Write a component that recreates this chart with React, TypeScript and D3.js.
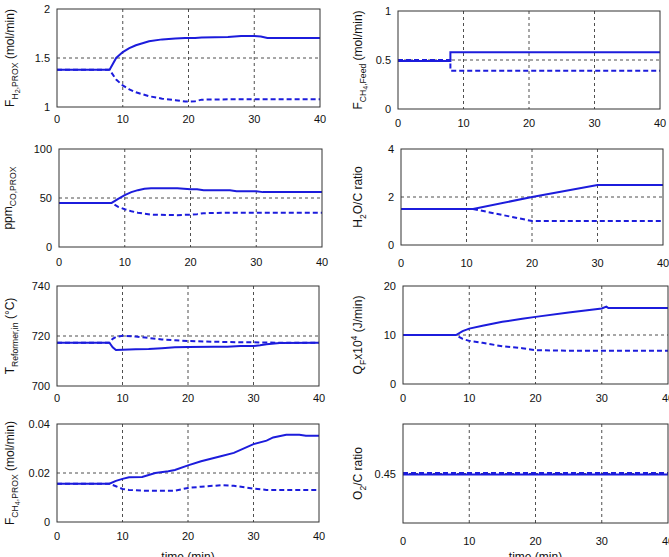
import React from 'react';
import * as d3 from 'd3';

const W = 669;
const H = 557;
const BLUE = '#1c1cdc';
const FONT = '"Liberation Sans", Arial, Helvetica, sans-serif';

// shared time axis (min)
const timeTicks = [0, 10, 20, 30, 40];
const timeGrid = [10, 20, 30];

// H2 flow out of PROX (mol/min)
const h2Time = [0, 8, 9, 10, 11, 12, 14, 16, 18, 19.5, 21, 22, 26, 28, 30, 31, 32, 40];
const h2Up = [1.38, 1.38, 1.5, 1.56, 1.6, 1.63, 1.67, 1.69, 1.7, 1.705, 1.705, 1.71, 1.715, 1.725, 1.725, 1.72, 1.705, 1.705];
const h2Down = [1.38, 1.38, 1.28, 1.22, 1.18, 1.15, 1.11, 1.085, 1.07, 1.055, 1.058, 1.075, 1.078, 1.078, 1.078, 1.078, 1.078, 1.078];

// CH4 feed (mol/min)
const feedTime = [0, 8, 8, 40];
const feedUp = [0.49, 0.49, 0.58, 0.58];
const feedDown = [0.5, 0.5, 0.39, 0.39];

// CO at PROX outlet (ppm)
const coTime = [0, 8, 9, 10, 11, 12, 13, 14, 18, 20, 21, 22, 26, 27, 30, 31, 40];
const coUp = [45, 45, 49, 53, 56, 58, 59.5, 60, 60, 59, 59, 58, 58, 57, 57, 56, 56];
const coDown = [45, 45, 41, 38.5, 36.5, 35, 34, 33, 32.5, 33, 33.5, 34.5, 35, 35, 35, 35, 35];

// steam-to-carbon ratio
const scTime = [0, 11, 20, 30, 40];
const scUp = [1.5, 1.5, 2.0, 2.5, 2.5];
const scDown = [1.5, 1.5, 1.0, 1.0, 1.0];

// reformer inlet temperature (°C)
const tTime = [0, 8, 8.5, 9, 10, 12, 14, 16, 18, 20, 24, 26, 28, 30, 31, 32, 34, 40];
const tUp = [717.3, 717.3, 715.5, 714.4, 714.5, 714.7, 714.8, 715.1, 715.5, 715.6, 715.7, 715.7, 716, 716, 716.3, 716.7, 717.2, 717.3];
const tDown = [717.3, 717.3, 718.9, 719.6, 720.1, 719.8, 719.2, 718.6, 718.3, 718, 717.7, 717.6, 717.5, 717.5, 717.4, 717.4, 717.3, 717.3];

// furnace heat duty (x10^4 J/min)
const qTime = [0, 8, 9, 10, 12, 15, 18, 20, 25, 30, 30.7, 31, 40];
const qUp = [10, 10, 10.8, 11.3, 11.9, 12.7, 13.3, 13.7, 14.6, 15.4, 15.8, 15.5, 15.5];
const qDown = [10, 10, 9.2, 8.8, 8.4, 7.7, 7.3, 6.9, 6.8, 6.8, 6.8, 6.8, 6.8];

// CH4 slip at PROX outlet (mol/min)
const slipTime = [0, 8, 9, 10, 11, 13, 15, 17, 18, 20, 22, 25, 27, 30, 32, 33, 35, 37, 38, 40];
const slipUp = [0.0156, 0.0156, 0.0168, 0.0176, 0.0183, 0.0184, 0.02, 0.0207, 0.0212, 0.0231, 0.0248, 0.0268, 0.0282, 0.0318, 0.0332, 0.0345, 0.0356, 0.0356, 0.0352, 0.0352];
const slipDown = [0.0156, 0.0156, 0.0146, 0.0135, 0.0131, 0.0128, 0.0128, 0.0128, 0.0128, 0.0139, 0.0144, 0.015, 0.0148, 0.0136, 0.0131, 0.0131, 0.0131, 0.0131, 0.0131, 0.0131];

// oxygen-to-carbon ratio
const ocTime = [0, 40];
const ocUp = [0.449, 0.449];
const ocDown = [0.4505, 0.4505];

type Seg = [string, number]; // text, level: 0 normal, 1 sub, 2 sub-sub, -1 sup

interface PanelDef {
  box: { x0: number; x1: number; y0: number; y1: number };
  tickGap: number;
  labelX: number;
  domain: [number, number];
  yTicks: number[];
  yTickText: string[];
  yGrid: number[];
  time: number[];
  up: number[];
  down: number[];
  label: Seg[];
  xTitle?: boolean;
}

const panels: PanelDef[] = [
  {
    box: { x0: 57, x1: 320, y0: 9, y1: 107 }, tickGap: 16, labelX: 14,
    domain: [1, 2], yTicks: [1, 1.5, 2], yTickText: ['1', '1.5', '2'], yGrid: [1.5],
    time: h2Time, up: h2Up, down: h2Down,
    label: [['F', 0], ['H', 1], ['2', 2], [',PROX', 1], [' (mol/min)', 0]],
  },
  {
    box: { x0: 398, x1: 660, y0: 11, y1: 109 }, tickGap: 18, labelX: 362,
    domain: [0, 1], yTicks: [0, 0.5, 1], yTickText: ['0', '0.5', '1'], yGrid: [0.5],
    time: feedTime, up: feedUp, down: feedDown,
    label: [['F', 0], ['CH', 1], ['4', 2], [',Feed', 1], [' (mol/min)', 0]],
  },
  {
    box: { x0: 59, x1: 322, y0: 149, y1: 247 }, tickGap: 19, labelX: 12,
    domain: [0, 100], yTicks: [0, 50, 100], yTickText: ['0', '50', '100'], yGrid: [50],
    time: coTime, up: coUp, down: coDown,
    label: [['ppm', 0], ['CO,PROX', 1]],
  },
  {
    box: { x0: 401, x1: 663, y0: 149, y1: 245 }, tickGap: 22, labelX: 362,
    domain: [0, 4], yTicks: [0, 2, 4], yTickText: ['0', '2', '4'], yGrid: [2],
    time: scTime, up: scUp, down: scDown,
    label: [['H', 0], ['2', 1], ['O/C ratio', 0]],
  },
  {
    box: { x0: 57, x1: 319, y0: 286, y1: 386 }, tickGap: 16, labelX: 14,
    domain: [700, 740], yTicks: [700, 720, 740], yTickText: ['700', '720', '740'], yGrid: [720],
    time: tTime, up: tUp, down: tDown,
    label: [['T', 0], ['Reformer,in', 1], [' (°C)', 0]],
  },
  {
    box: { x0: 403, x1: 668, y0: 286, y1: 384 }, tickGap: 18, labelX: 362,
    domain: [0, 20], yTicks: [0, 10, 20], yTickText: ['0', '10', '20'], yGrid: [10],
    time: qTime, up: qUp, down: qDown,
    label: [['Q', 0], ['F', 1], ['x10', 0], ['4', -1], [' (J/min)', 0]],
  },
  {
    box: { x0: 57, x1: 319, y0: 424, y1: 522 }, tickGap: 18, labelX: 14,
    domain: [0, 0.04], yTicks: [0, 0.02, 0.04], yTickText: ['0', '0.02', '0.04'], yGrid: [0.02],
    time: slipTime, up: slipUp, down: slipDown,
    label: [['F', 0], ['CH', 1], ['4', 2], [',PROX', 1], [' (mol/min)', 0]],
    xTitle: true,
  },
  {
    box: { x0: 403, x1: 668, y0: 424, y1: 523 }, tickGap: 22, labelX: 362,
    domain: [0.4, 0.5], yTicks: [0.45], yTickText: ['0.45'], yGrid: [0.45],
    time: ocTime, up: ocUp, down: ocDown,
    label: [['O', 0], ['2', 1], ['/C ratio', 0]],
    xTitle: true,
  },
];

function RichText({ segs, size }: { segs: Seg[]; size: number }) {
  let prev = 0;
  return (
    <>
      {segs.map(([t, lvl], i) => {
        const off = lvl === 1 ? 3.5 : lvl === 2 ? 6 : lvl === -1 ? -5 : 0;
        const fs = lvl === 0 ? size : lvl === 2 ? size * 0.6 : size * 0.72;
        const dy = off - prev;
        prev = off;
        return (
          <tspan key={i} dy={dy} fontSize={fs}>
            {t}
          </tspan>
        );
      })}
    </>
  );
}

function Panel({ p, idx }: { p: PanelDef; idx: number }) {
  const { x0, x1, y0, y1 } = p.box;
  const x = d3.scaleLinear().domain([0, 40]).range([x0, x1]);
  const y = d3.scaleLinear().domain(p.domain).range([y1, y0]);
  const line = d3
    .line<number>()
    .x((_, i) => x(p.time[i]))
    .y((v) => y(v));
  const clipId = `clip-${idx}`;
  const cy = (y0 + y1) / 2;
  return (
    <g>
      <clipPath id={clipId}>
        <rect x={x0} y={y0} width={x1 - x0} height={y1 - y0} />
      </clipPath>
      <rect x={x0} y={y0} width={x1 - x0} height={y1 - y0} fill="#fff" />
      {timeGrid.map((t) => (
        <line key={`gx${t}`} x1={x(t)} x2={x(t)} y1={y0} y2={y1} stroke="#222" strokeWidth={0.8} strokeDasharray="3,3" />
      ))}
      {p.yGrid.map((v) => (
        <line key={`gy${v}`} x1={x0} x2={x1} y1={y(v)} y2={y(v)} stroke="#222" strokeWidth={0.8} strokeDasharray="3,3" />
      ))}
      <g clipPath={`url(#${clipId})`}>
        <path d={line(p.down) ?? ''} fill="none" stroke={BLUE} strokeWidth={2} strokeDasharray="5,3" />
        <path d={line(p.up) ?? ''} fill="none" stroke={BLUE} strokeWidth={2} />
      </g>
      <rect x={x0} y={y0} width={x1 - x0} height={y1 - y0} fill="none" stroke="#333" strokeWidth={1} />
      {timeTicks.map((t) => (
        <text key={`tx${t}`} x={x(t)} y={y1 + p.tickGap} textAnchor="middle" fontSize={11} fill="#111">
          {t}
        </text>
      ))}
      {p.yTicks.map((v, i) => (
        <text key={`ty${v}`} x={x0 - 7} y={y(v) + 4} textAnchor="end" fontSize={11} fill="#111">
          {p.yTickText[i]}
        </text>
      ))}
      <text transform={`translate(${p.labelX},${cy}) rotate(-90)`} textAnchor="middle" fontSize={12} fill="#111">
        <RichText segs={p.label} size={12} />
      </text>
      {p.xTitle && (
        <text x={(x0 + x1) / 2} y={561} textAnchor="middle" fontSize={12} fill="#111">
          time (min)
        </text>
      )}
    </g>
  );
}

export default function App() {
  return (
    <svg
      width={W}
      height={H}
      viewBox={`0 0 ${W} ${H}`}
      style={{ position: 'absolute', left: 0, top: 0, background: '#fff', fontFamily: FONT }}
    >
      <rect width={W} height={H} fill="#fff" />
      {panels.map((p, i) => (
        <Panel key={i} p={p} idx={i} />
      ))}
    </svg>
  );
}
